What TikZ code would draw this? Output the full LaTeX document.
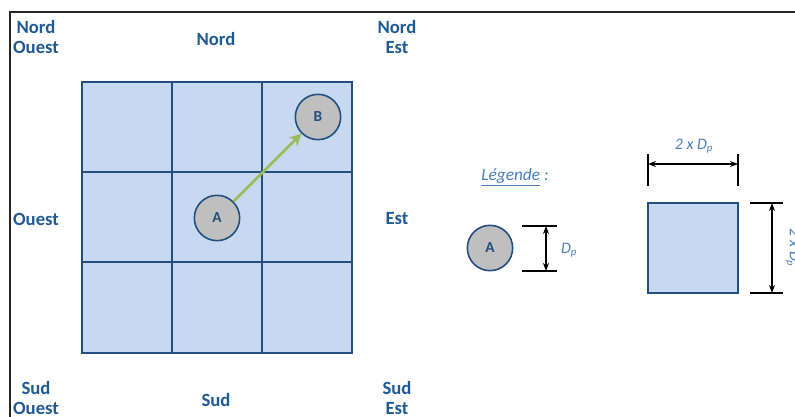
\documentclass[tikz,border=0pt]{standalone}
\usepackage{fontspec}
\setmainfont{Carlito}
\usetikzlibrary{arrows.meta}
\definecolor{dirtext}{HTML}{1F5A96}
\definecolor{legtext}{HTML}{4A7EBB}
\definecolor{cellfill}{HTML}{C6D9F1}
\definecolor{cellline}{HTML}{254E80}
\definecolor{dotfill}{HTML}{BFBFBF}
\definecolor{move}{HTML}{9BBB59}

\tikzset{
  dirlabel/.style={font=\fontsize{14}{15}\selectfont\bfseries, text=dirtext, align=center},
  particle/.style={circle, draw=cellline, line width=1.2pt, fill=dotfill, minimum size=34pt, inner sep=0pt,
    font=\fontsize{11.5}{13}\selectfont\bfseries, text=cellline},
  dimlabel/.style={font=\fontsize{12}{14}\selectfont\itshape, text=legtext},
  dimtick/.style={line width=1.1pt},
  dimarrow/.style={line width=0.8pt, {Stealth[length=6pt]}-{Stealth[length=6pt]}}
}

\begin{document}
\begin{tikzpicture}[x=0.75pt, y=-0.75pt]
  \useasboundingbox (0,0) rectangle (795,417);

  % frame of the screenshot
  \draw[line width=1.6pt, black!85] (795,12) -- (10,12) -- (10,417);

  % grid of 3 x 3 cells
  \fill[cellfill] (82,82) rectangle (352,353);
  \foreach \k in {172,262} {
    \draw[cellline, line width=1.3pt] (\k,82) -- (\k,353);
    \draw[cellline, line width=1.3pt] (82,\k) -- (352,\k);
  }
  \draw[cellline, line width=1.3pt] (82,82) rectangle (352,353);

  % directions
  \node[dirlabel] (no) at (36,37) {Nord\\Ouest};
  \node[dirlabel] (n) at (216,39) {Nord};
  \node[dirlabel] (ne) at (397,37) {Nord\\Est};
  \node[dirlabel] (o) at (36,219) {Ouest};
  \node[dirlabel] (e) at (397,219) {Est};
  \node[dirlabel] (so) at (36,398) {Sud\\Ouest};
  \node[dirlabel] (s) at (216,400) {Sud};
  \node[dirlabel] (se) at (397,398) {Sud\\Est};

  % particles
  \node[particle] (a) at (217,218) {A};
  \node[particle] (b) at (318,117) {B};
  \draw[move, line width=2pt, -{Stealth[length=9pt, width=9pt]}] (a) -- (b);

  % legend
  \node[font=\fontsize{13}{15}\selectfont\itshape, text=legtext] (leg) at (515,177) {\underline{Légende} :};

  \node[particle] (la) at (490,248) {A};
  \coordinate (dt) at (546,226);
  \coordinate (db) at (546,271);
  \draw[dimtick] (522,226) -- (557,226);
  \draw[dimtick] (522,271) -- (557,271);
  \draw[dimarrow] (dt) -- (db);
  \node[dimlabel] (dp) at (569,250) {D\textsubscript{p}};

  % cell of the grid
  \draw[cellline, line width=1.3pt, fill=cellfill] (648,203) rectangle (738,293);

  \coordinate (hl) at (648,164);
  \coordinate (hr) at (738,164);
  \draw[dimtick] (648,154) -- (648,186);
  \draw[dimtick] (738,154) -- (738,186);
  \draw[dimarrow] (hl) -- (hr);
  \node[dimlabel] (wtop) at (694,146) {2 x D\textsubscript{p}};

  \coordinate (vt) at (772,203);
  \coordinate (vb) at (772,293);
  \draw[dimtick] (750,203) -- (783,203);
  \draw[dimtick] (750,293) -- (783,293);
  \draw[dimarrow] (vt) -- (vb);
  \node[dimlabel, rotate=-90] (wside) at (793,248) {2 x D\textsubscript{p}};
\end{tikzpicture}
\end{document}
